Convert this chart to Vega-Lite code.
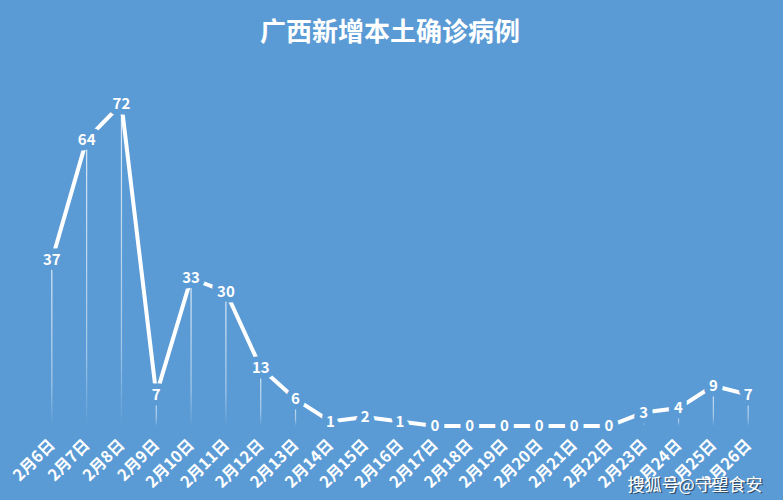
{
  "$schema": "https://vega.github.io/schema/vega-lite/v6.json",
  "autosize": {"type": "none"},
  "padding": {"left": 17, "top": 68, "right": 0, "bottom": 74},
  "width": 766,
  "height": 358,
  "background": "#5B9BD5",
  "title": {
    "text": "广西新增本土确诊病例",
    "font": "Noto Sans CJK SC",
    "fontSize": 26,
    "fontWeight": "bold",
    "color": "white",
    "anchor": "middle",
    "dx": -10,
    "offset": 22
  },
  "config": {
    "view": {"stroke": null},
    "font": "Noto Sans CJK SC"
  },
  "data": {
    "values": [
      {"date": "2月6日", "cases": 37},
      {"date": "2月7日", "cases": 64},
      {"date": "2月8日", "cases": 72},
      {"date": "2月9日", "cases": 7},
      {"date": "2月10日", "cases": 33},
      {"date": "2月11日", "cases": 30},
      {"date": "2月12日", "cases": 13},
      {"date": "2月13日", "cases": 6},
      {"date": "2月14日", "cases": 1},
      {"date": "2月15日", "cases": 2},
      {"date": "2月16日", "cases": 1},
      {"date": "2月17日", "cases": 0},
      {"date": "2月18日", "cases": 0},
      {"date": "2月19日", "cases": 0},
      {"date": "2月20日", "cases": 0},
      {"date": "2月21日", "cases": 0},
      {"date": "2月22日", "cases": 0},
      {"date": "2月23日", "cases": 3},
      {"date": "2月24日", "cases": 4},
      {"date": "2月25日", "cases": 9},
      {"date": "2月26日", "cases": 7}
    ]
  },
  "encoding": {
    "x": {
      "field": "date",
      "type": "ordinal",
      "sort": null,
      "scale": {"type": "point", "padding": 1},
      "axis": {
        "labelAngle": -45,
        "labelAlign": "right",
        "labelBaseline": "middle",
        "labelPadding": 16,
        "labelFontSize": 16,
        "labelFontWeight": "bold",
        "labelColor": "white",
        "labelOverlap": false,
        "domain": false,
        "ticks": false,
        "grid": false,
        "title": "搜狐号@守望食安",
        "titleColor": "#2b3a4a",
        "titleOpacity": 0.8,
        "titleFontSize": 17,
        "titleFontWeight": "normal",
        "titleAlign": "right",
        "titleAnchor": null,
        "titleBaseline": "alphabetic",
        "titleX": 746.5,
        "titleY": 65.5
      }
    },
    "y": {
      "field": "cases",
      "type": "quantitative",
      "scale": {"domain": [0, 80], "nice": false},
      "axis": {
        "labels": false,
        "ticks": false,
        "domain": false,
        "grid": false,
        "title": "搜狐号@守望食安",
        "titleColor": "white",
        "titleFontSize": 17,
        "titleFontWeight": "normal",
        "titleAngle": 0,
        "titleAlign": "right",
        "titleAnchor": null,
        "titleBaseline": "alphabetic",
        "titleX": 745,
        "titleY": 422
      }
    }
  },
  "layer": [
    {
      "mark": {
        "type": "bar",
        "size": 1.2,
        "color": {
          "gradient": "linear",
          "x1": 0, "y1": 0, "x2": 0, "y2": 1,
          "stops": [
            {"offset": 0, "color": "rgba(255,255,255,0.8)"},
            {"offset": 0.75, "color": "rgba(255,255,255,0.45)"},
            {"offset": 1, "color": "rgba(255,255,255,0)"}
          ]
        }
      },
      "encoding": {"y2": {"datum": 0}}
    },
    {
      "mark": {"type": "line", "color": "white", "strokeWidth": 4, "strokeCap": "butt"}
    },
    {
      "mark": {
        "type": "text",
        "fontSize": 15,
        "fontWeight": "bold",
        "fill": "#5B9BD5",
        "stroke": "#5B9BD5",
        "strokeWidth": 11,
        "strokeJoin": "round",
        "baseline": "middle"
      },
      "encoding": {"text": {"field": "cases", "type": "quantitative"}}
    },
    {
      "mark": {
        "type": "text",
        "fontSize": 15,
        "fontWeight": "bold",
        "color": "white",
        "baseline": "middle"
      },
      "encoding": {"text": {"field": "cases", "type": "quantitative"}}
    }
  ]
}
